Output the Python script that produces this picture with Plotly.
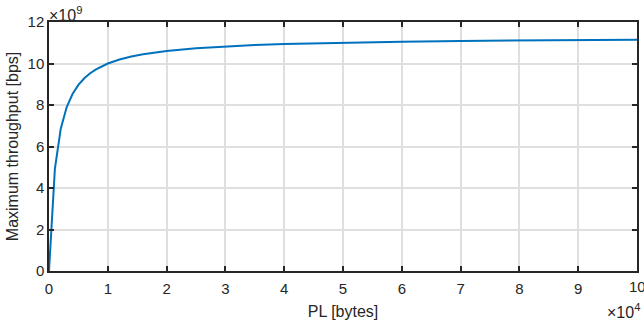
import plotly.graph_objects as go

# PL in bytes, throughput in units of 1e9 bps
pl_bytes = [0, 1000, 2000, 3000, 4000, 5000, 6000, 7000, 8000, 9000, 10000,
            12000, 14000, 16000, 18000, 20000, 25000, 30000, 35000, 40000,
            50000, 60000, 70000, 80000, 90000, 100000]
throughput_e9 = [0.0, 4.92, 6.86, 7.89, 8.53, 8.97, 9.29, 9.53, 9.72, 9.87, 10.0,
                 10.19, 10.34, 10.45, 10.53, 10.60, 10.73, 10.82, 10.89, 10.94,
                 11.01, 11.05, 11.09, 11.11, 11.13, 11.15]

x_ticks = [0, 10000, 20000, 30000, 40000, 50000, 60000, 70000, 80000, 90000, 100000]
x_ticktext = ["0", "1", "2", "3", "4", "5", "6", "7", "8", "9", "10"]
y_ticks = [0, 2, 4, 6, 8, 10, 12]

font = "Liberation Sans, Arial, sans-serif"
axcol = "#262626"

fig = go.Figure()
fig.add_trace(go.Scatter(x=pl_bytes, y=throughput_e9, mode="lines",
                         line=dict(color="#0072BD", width=2), showlegend=False,
                         hoverinfo="skip"))

# last x tick label drawn as annotation (it is cut off by the page edge)
annotations = [
    dict(text=x_ticktext[-1], xref="x", yref="paper", x=x_ticks[-1], y=0.0,
         xanchor="center", yanchor="top", showarrow=False,
         font=dict(size=15, color=axcol), yshift=-5),
    dict(text="×10<sup>9</sup>", xref="paper", yref="paper", x=0.0, y=1.0,
         xanchor="left", yanchor="bottom", showarrow=False,
         font=dict(size=16, color=axcol), xshift=-2, yshift=-4),
    dict(text="×10<sup>4</sup>", xref="paper", yref="paper", x=1.0, y=0.0,
         xanchor="right", yanchor="top", showarrow=False,
         font=dict(size=16, color=axcol), xshift=5, yshift=-28),
]

fig.update_layout(
    width=644, height=326,
    margin=dict(l=49, r=7, t=22, b=55, autoexpand=False),
    paper_bgcolor="white", plot_bgcolor="white",
    font=dict(family=font, size=15, color=axcol),
    xaxis=dict(range=[0, 100000], tickvals=x_ticks[:-1], ticktext=x_ticktext[:-1],
               showgrid=True, gridcolor="#dfdfdf", gridwidth=1.5,
               showline=True, linecolor=axcol, linewidth=1.5, mirror="ticks",
               ticks="inside", ticklen=5, tickcolor=axcol, tickwidth=1.5,
               zeroline=False, automargin=False, ticklabelstandoff=3,
               title=dict(text="PL [bytes]", standoff=10, font=dict(size=16)),
               tickfont=dict(size=15)),
    yaxis=dict(range=[0, 12], tickvals=y_ticks,
               showgrid=True, gridcolor="#dfdfdf", gridwidth=1.5,
               showline=True, linecolor=axcol, linewidth=1.5, mirror="ticks",
               ticks="inside", ticklen=5, tickcolor=axcol, tickwidth=1.5,
               zeroline=False, automargin=False,
               title=dict(text="Maximum throughput [bps]", standoff=5,
                          font=dict(size=16)),
               tickfont=dict(size=15)),
    annotations=annotations,
)

fig.write_html("out.html", config={"displayModeBar": False},
               post_script="document.body.style.margin='0';document.body.style.overflow='hidden';")
